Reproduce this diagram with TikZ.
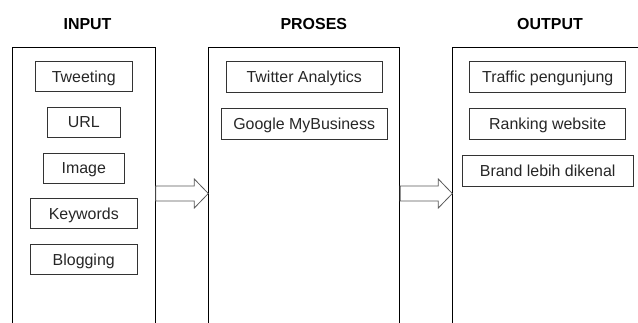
\documentclass[tikz,border=0pt]{standalone}
\usepackage{fontspec}
\setmainfont{Liberation Sans}
\usetikzlibrary{calc}
\usetikzlibrary{positioning}

\begin{document}
\begin{tikzpicture}[x=1bp,y=-1bp,node distance=15bp,
    every node/.style={font=\fontsize{16}{19}\selectfont},
    panel/.style={draw,line width=0.8bp,anchor=north west,minimum height=320bp,inner sep=0pt},
    title/.style={font=\bfseries\fontsize{16}{19}\selectfont},
    item/.style={draw=black!80,line width=0.8bp,minimum height=31bp,inner sep=0pt,
      text height=11.5bp,text depth=0bp,text=black!85},
    small/.style={item,minimum height=30bp},
    blockarrow/.style={draw=black!65,line width=0.8bp,fill=white}]
    \useasboundingbox (0,0) rectangle (638,322);
    \clip (0,0) rectangle (638,322);
    \node[panel,minimum width=143.3bp] (inp) at (11.7,46.7) {};
    \node[panel,minimum width=191bp] (pro) at (208.3,46.7) {};
    \node[panel,minimum width=190bp] (out) at (452.3,46.7) {};
    \node[title] (tinp) at (87.5,24.5) {INPUT};
    \node[title] (tpro) at (313.8,24.5) {PROSES};
    \node[title] (tout) at (550,24.5) {OUTPUT};
    \node[small,minimum width=97.3bp,below=14.3bp of inp.north] (tweet) {Tweeting};
    \node[small,minimum width=72.7bp,below=of tweet] (url) {URL};
    \node[small,minimum width=81bp,below=of url] (img) {Image};
    \node[small,minimum width=106.7bp,below=of img] (kw) {Keywords};
    \node[small,minimum width=106.7bp,below=of kw] (blog) {Blogging};
    \node[item,minimum width=156.3bp,below=14.3bp of pro.north] (twa) {Twitter Analytics};
    \node[item,minimum width=166.3bp,below=of twa] (gmb) {Google MyBusiness};
    \node[item,minimum width=155.7bp,below=14.3bp of out.north] (traf) {Traffic pengunjung};
    \node[item,minimum width=155.7bp,below=of traf] (rank) {Ranking website};
    \node[item,minimum width=171.4bp,below=of rank] (brand) {Brand lebih dikenal};
    \foreach \a/\b in {inp/pro,pro/out}{
      \coordinate (s) at (\a.east |- 0,193.5);
      \coordinate (t) at (\b.west |- 0,193.5);
      \draw[blockarrow] ($(s)+(0,-7.5)$) -- ($(t)+(-14,-7.5)$) -- ($(t)+(-14,-14.5)$)
        -- (t) -- ($(t)+(-14,14.5)$) -- ($(t)+(-14,7.5)$) -- ($(s)+(0,7.5)$) -- cycle;
    }
  \end{tikzpicture}
\end{document}
